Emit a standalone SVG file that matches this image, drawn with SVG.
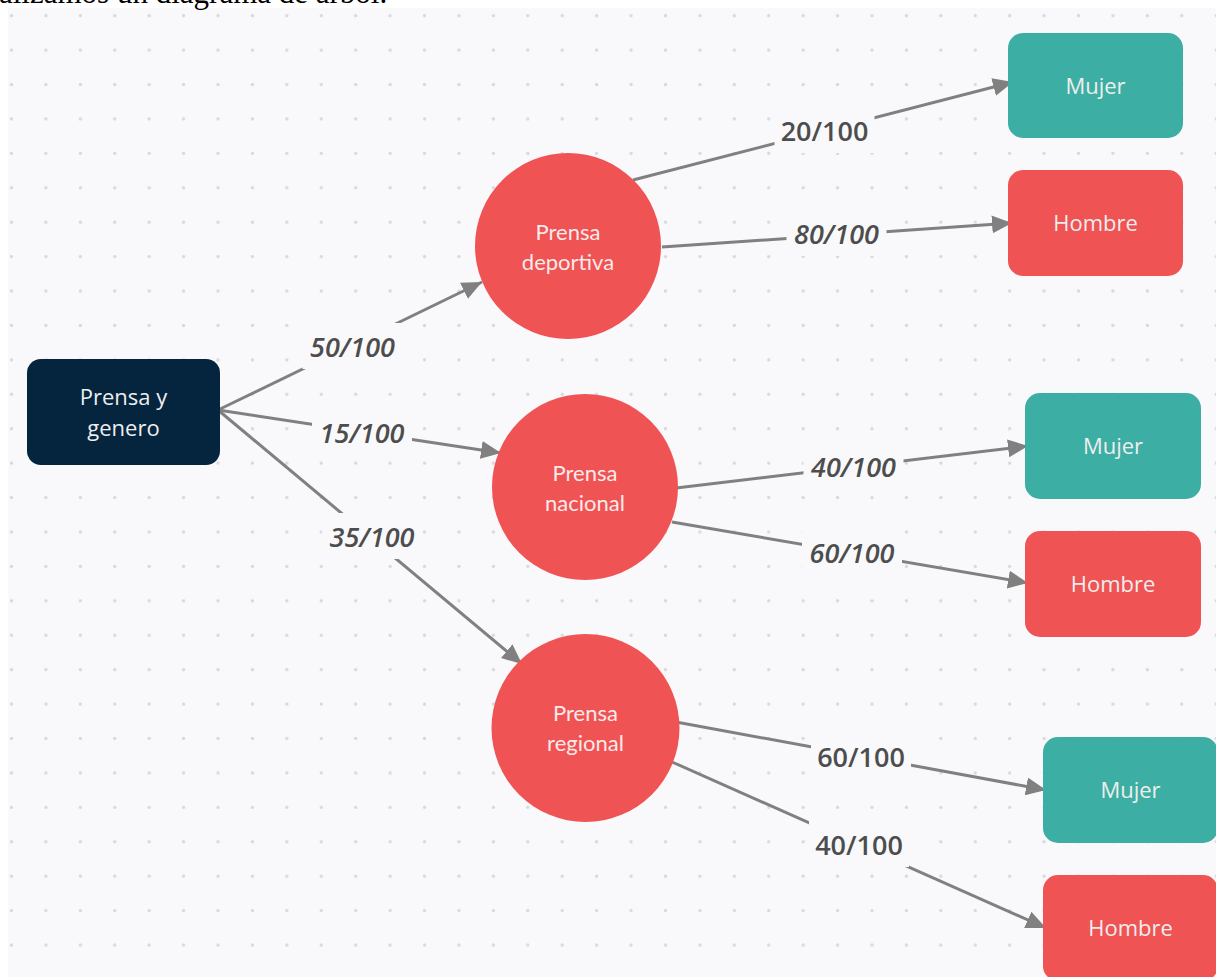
<svg xmlns="http://www.w3.org/2000/svg" width="1216" height="977" viewBox="0 0 1216 977">
<style>
.bg{fill:#f9f9fb}
.edge{stroke:#808080;stroke-width:3;fill:none;marker-end:url(#arr)}
.lbl{font-family:"Open Sans","Noto Sans",sans-serif;font-size:27px;font-weight:600;fill:#4d4d4d;text-anchor:middle}
.it{font-style:italic}
.lblbg{fill:#f9f9fb}
.ntxt{font-family:"Open Sans","Noto Sans",sans-serif;font-size:22px;fill:#eeeeee;text-anchor:middle}
.ctxt{font-family:Lato,"Open Sans",sans-serif;font-size:22px;fill:#fbeaea;text-anchor:middle}
.red{fill:#f05353}
.teal{fill:#3daea3}
.navy{fill:#05243e}
</style>
<defs>
<pattern id="dots" patternUnits="userSpaceOnUse" x="-5.71" y="-1.51" width="34.42" height="34.42">
<circle cx="17.21" cy="17.21" r="1.6" fill="#d8d8dc"/>
</pattern>
<marker id="arr" markerUnits="userSpaceOnUse" markerWidth="20" markerHeight="18" refX="20" refY="9" orient="auto">
<path d="M0,0 L20,9 L0,18 z" fill="#808080"/>
</marker>
</defs>
<rect x="0" y="0" width="1216" height="977" fill="#ffffff"/>
<rect class="bg" x="8" y="8" width="1208" height="969"/>
<rect x="8" y="8" width="1208" height="969" fill="url(#dots)"/>
<text x="-1" y="3" font-family="Liberation Serif,serif" font-size="31" fill="#000">alizamos un diagrama de árbol.</text>

<g id="connectors">
<path class="edge" d="M218,410 L482,282"/>
<path class="edge" d="M218,410 L501,453"/>
<path class="edge" d="M218,410 L522,664"/>
<path class="edge" d="M633,180 L1013,82"/>
<path class="edge" d="M662,247 L1012,223"/>
<path class="edge" d="M676,488 L1028,446"/>
<path class="edge" d="M672,522 L1028,583"/>
<path class="edge" d="M676,722 L1046,790"/>
<path class="edge" d="M672,762 L1046,928"/>
<rect class="lblbg" x="302.5" y="323" width="100" height="46"/>
<text class="lbl it" x="352.5" y="357">50/100</text>
<rect class="lblbg" x="312" y="409" width="100" height="46"/>
<text class="lbl it" x="362" y="443">15/100</text>
<rect class="lblbg" x="322" y="513" width="100" height="46"/>
<text class="lbl it" x="372" y="547">35/100</text>
<rect class="lblbg" x="774.5" y="107" width="100" height="46"/>
<text class="lbl" x="824.5" y="141">20/100</text>
<rect class="lblbg" x="786.5" y="210" width="100" height="46"/>
<text class="lbl it" x="836.5" y="244">80/100</text>
<rect class="lblbg" x="803.5" y="443" width="100" height="46"/>
<text class="lbl it" x="853.5" y="477">40/100</text>
<rect class="lblbg" x="802" y="529" width="100" height="46"/>
<text class="lbl it" x="852" y="563">60/100</text>
<rect class="lblbg" x="811" y="733" width="100" height="46"/>
<text class="lbl" x="861" y="767">60/100</text>
<rect class="lblbg" x="809" y="821" width="100" height="46"/>
<text class="lbl" x="859" y="855">40/100</text>
</g>

<g id="root">
<rect class="navy" x="27" y="359" width="193" height="106" rx="14"/>
<text class="ntxt" x="123.5" y="405">Prensa y</text>
<text class="ntxt" x="123.5" y="436">genero</text>
</g>
<g id="deportiva">
<circle class="red" cx="568" cy="246" r="93"/>
<text class="ctxt" x="568" y="240">Prensa</text>
<text class="ctxt" x="568" y="270">deportiva</text>
</g>
<g id="nacional">
<circle class="red" cx="585" cy="487" r="93"/>
<text class="ctxt" x="585" y="481">Prensa</text>
<text class="ctxt" x="585" y="511">nacional</text>
</g>
<g id="regional">
<circle class="red" cx="585.5" cy="728" r="94"/>
<text class="ctxt" x="585.5" y="721">Prensa</text>
<text class="ctxt" x="585.5" y="751">regional</text>
</g>
<g id="mujer1">
<rect class="teal" x="1008" y="33" width="175" height="105" rx="15"/>
<text class="ntxt" x="1095.5" y="93.5">Mujer</text>
</g>
<g id="hombre1">
<rect class="red" x="1008" y="170" width="175" height="106" rx="15"/>
<text class="ntxt" x="1095.5" y="231">Hombre</text>
</g>
<g id="mujer2">
<rect class="teal" x="1025" y="393" width="176" height="106" rx="15"/>
<text class="ntxt" x="1113" y="454">Mujer</text>
</g>
<g id="hombre2">
<rect class="red" x="1025" y="531" width="176" height="106" rx="15"/>
<text class="ntxt" x="1113" y="592">Hombre</text>
</g>
<g id="mujer3">
<rect class="teal" x="1043" y="737" width="175" height="106" rx="15"/>
<text class="ntxt" x="1130.5" y="798">Mujer</text>
</g>
<g id="hombre3">
<rect class="red" x="1043" y="875" width="175" height="106" rx="15"/>
<text class="ntxt" x="1130.5" y="936">Hombre</text>
</g>
</svg>
